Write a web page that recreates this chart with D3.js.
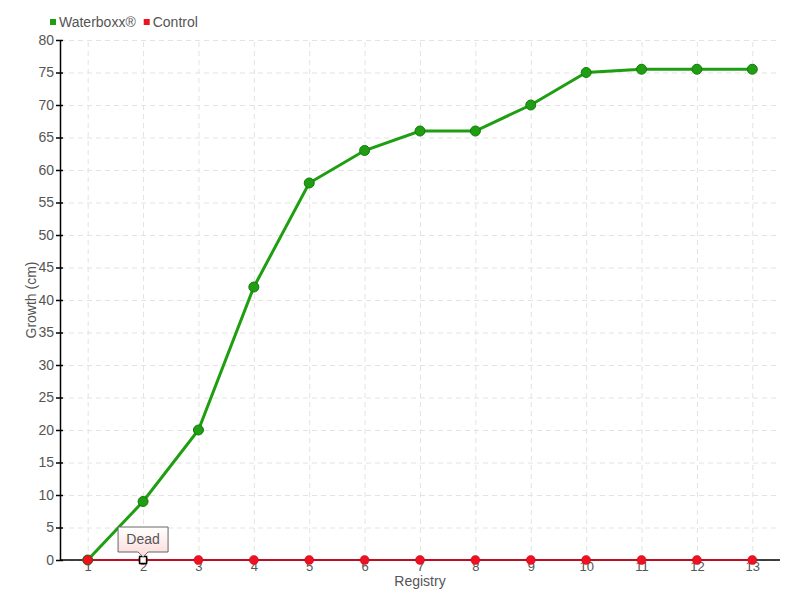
<!DOCTYPE html>
<html>
<head>
<meta charset="utf-8">
<script src="https://cdn.jsdelivr.net/npm/d3@7"></script>
<style>
  body { margin: 0; background: #fff; }
  text { font-family: "Liberation Sans", Arial, sans-serif; fill: #555; }
  .grid line { stroke: #e3e3e3; stroke-dasharray: 5,4; }
  .grid path { display: none; }
  .axis path, .axis line { stroke: #000; }
</style>
</head>
<body>
<div id="chart"></div>
<script>
const registry = ["1", "2", "3", "4", "5", "6", "7", "8", "9", "10", "11", "12", "13"];
const waterboxx = [0, 9, 20, 42, 58, 63, 66, 66, 70, 75, 75.5, 75.5, 75.5];
const control = [0, 0, 0, 0, 0, 0, 0, 0, 0, 0, 0, 0, 0];
const yTicks = d3.range(0, 81, 5);

const W = 800, H = 600;
const margin = { top: 40, right: 20, bottom: 40, left: 60 };
const width = W - margin.left - margin.right;
const height = H - margin.top - margin.bottom;

const svg = d3.select("#chart").append("svg").attr("width", W).attr("height", H);
const g = svg.append("g").attr("transform", `translate(${margin.left},${margin.top})`);

const x = d3.scalePoint().domain(registry).range([0, width]).padding(0.5);
const y = d3.scaleLinear().domain([0, 80]).range([height, 0]);

// grids
g.append("g")
  .attr("class", "grid")
  .attr("transform", `translate(0,${height})`)
  .call(d3.axisBottom(x).tickSize(-height).tickFormat(""));
g.append("g")
  .attr("class", "grid")
  .call(d3.axisLeft(y).tickValues(yTicks).tickSize(-width).tickFormat(""));

// axes
const yAxis = g.append("g")
  .attr("class", "axis")
  .call(d3.axisLeft(y).tickValues(yTicks).tickSize(0).tickPadding(6));
yAxis.selectAll(".tick line").attr("x1", -4).attr("x2", 3).attr("stroke-width", 1.5);
yAxis.select(".domain").attr("stroke-width", 1.5);
yAxis.selectAll("text").style("font-size", "14px").attr("fill", "#555");

const xAxis = g.append("g")
  .attr("class", "axis")
  .attr("transform", `translate(0,${height})`)
  .call(d3.axisBottom(x).tickSize(0).tickPadding(2));
xAxis.select(".domain").attr("d", `M0,0H${width}`).attr("stroke-width", 1.5);
xAxis.selectAll("text").style("font-size", "13px").attr("fill", "#555");

// axis titles
g.append("text")
  .attr("transform", `translate(-24,${height / 2}) rotate(-90)`)
  .attr("text-anchor", "middle")
  .style("font-size", "14px")
  .text("Growth (cm)");
g.append("text")
  .attr("x", width / 2)
  .attr("y", height + 26)
  .attr("text-anchor", "middle")
  .style("font-size", "14px")
  .text("Registry");

// series
const line = d3.line()
  .x((d, i) => x(registry[i]))
  .y((d) => y(d));

g.append("path")
  .datum(waterboxx)
  .attr("fill", "none")
  .attr("stroke", "#1f9e12")
  .attr("stroke-width", 3)
  .attr("d", line);

g.selectAll(".wdot")
  .data(waterboxx)
  .enter()
  .append("circle")
  .attr("cx", (d, i) => x(registry[i]))
  .attr("cy", (d) => y(d))
  .attr("r", 5)
  .attr("fill", "#1f9e12")
  .attr("stroke", "#157a0c")
  .attr("stroke-width", 1);

g.append("path")
  .datum(control)
  .attr("fill", "none")
  .attr("stroke", "#e8001c")
  .attr("stroke-width", 1.5)
  .attr("d", line);

g.selectAll(".cdot")
  .data(control)
  .enter()
  .append("circle")
  .attr("cx", (d, i) => x(registry[i]))
  .attr("cy", (d) => y(d))
  .attr("r", 4.5)
  .attr("fill", "#ee1122")
  .attr("stroke", "#c8001a")
  .attr("stroke-width", 0.5);

// hovered marker + tooltip on point 2
const hx = x(registry[1]), hy = y(control[1]);
g.append("rect")
  .attr("x", hx - 3.5).attr("y", hy - 3.5)
  .attr("width", 7).attr("height", 7)
  .attr("fill", "#fff").attr("stroke", "#000").attr("stroke-width", 1.5);

const defs = svg.append("defs");
const grad = defs.append("linearGradient")
  .attr("id", "tipgrad").attr("x1", "0%").attr("y1", "0%").attr("x2", "0%").attr("y2", "100%");
grad.append("stop").attr("offset", "0%").attr("stop-color", "#ffffff");
grad.append("stop").attr("offset", "100%").attr("stop-color", "#fcd9d9");

const tw = 50, th = 25, tip = 5;
const tx = hx - 25, ty = hy - 33;
g.append("path")
  .attr("d", `M${tx},${ty}H${tx + tw}V${ty + th}H${hx + tip}L${hx},${ty + th + tip}L${hx - tip},${ty + th}H${tx}Z`)
  .attr("fill", "url(#tipgrad)")
  .attr("stroke", "#666")
  .attr("stroke-width", 1);
g.append("text")
  .attr("x", hx).attr("y", ty + 17)
  .attr("text-anchor", "middle")
  .style("font-size", "14px")
  .text("Dead");

// legend
const legend = svg.append("g").attr("transform", "translate(50,17)");
const items = [{ name: "Waterboxx®", color: "#1f9e12" }, { name: "Control", color: "#ee1122" }];
let lx = 0;
items.forEach((it) => {
  legend.append("rect").attr("x", lx).attr("y", 2).attr("width", 6).attr("height", 6).attr("fill", it.color);
  const t = legend.append("text").attr("x", lx + 9).attr("y", 10).style("font-size", "14px").text(it.name);
  lx += 9 + t.node().getComputedTextLength() + 8;
});
</script>
</body>
</html>
